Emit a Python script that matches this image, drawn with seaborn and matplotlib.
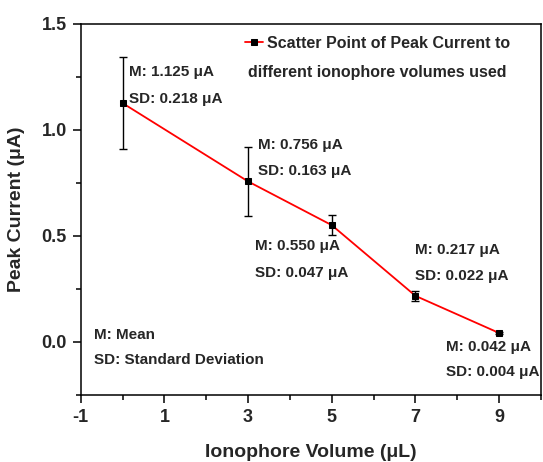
import matplotlib
matplotlib.use("Agg")
import matplotlib.pyplot as plt
import seaborn as sns
import pandas as pd
from matplotlib.ticker import MultipleLocator

# Data
volumes = [0, 3, 5, 7, 9]
peak_current = [1.125, 0.756, 0.550, 0.217, 0.042]
std_dev = [0.218, 0.163, 0.047, 0.022, 0.004]
x_ticks = [-1, 1, 3, 5, 7, 9]
y_ticks = [0.0, 0.5, 1.0, 1.5]

df = pd.DataFrame({"vol": volumes, "cur": peak_current, "sd": std_dev})

sns.set_theme(style="ticks")
plt.rcParams['font.family'] = ['Liberation Sans', 'DejaVu Sans']
plt.rcParams['font.weight'] = 'bold'

fig = plt.figure(figsize=(5.43, 4.62), dpi=100)
ax = fig.add_axes([80.7/543, 1-395/462, (541-80.7)/543, (395-23.5)/462])

ax.errorbar(df["vol"], df["cur"], yerr=df["sd"], fmt='none', ecolor='black',
            elinewidth=1.0, capsize=2.8, capthick=1.0, zorder=2)
sns.lineplot(data=df, x="vol", y="cur", ax=ax, color='red', linewidth=1.3,
             marker='s', markersize=4.5, markerfacecolor='black',
             markeredgecolor='black', label="Scatter Point of Peak Current to",
             zorder=3)

ax.set_xlim(-1, 10)
ax.set_ylim(-0.25, 1.5)
ax.set_xticks(x_ticks)
ax.set_yticks(y_ticks)
ax.set_xticklabels([str(t) for t in x_ticks])
ax.set_yticklabels([f"{t:.1f}" for t in y_ticks])
ax.xaxis.set_minor_locator(MultipleLocator(1))
ax.yaxis.set_minor_locator(MultipleLocator(0.25))
ax.tick_params(axis='both', which='major', direction='out', length=6, width=1.1,
               labelsize=13, color='black', pad=4)
ax.tick_params(axis='both', which='minor', direction='out', length=3.5, width=1.1,
               color='black')
for lab in ax.get_xticklabels() + ax.get_yticklabels():
    lab.set_fontweight('bold')
for s in ax.spines.values():
    s.set_visible(True)
    s.set_linewidth(1.1)
    s.set_color('black')

ax.set_xlabel("Ionophore Volume (μL)", fontsize=14, fontweight='bold', labelpad=13)
ax.set_ylabel("Peak Current (μA)", fontsize=14, fontweight='bold', labelpad=12)

# Legend
leg = ax.legend(loc='center left', bbox_to_anchor=(245/543, 1-43/462),
                bbox_transform=fig.transFigure, frameon=False, borderpad=0,
                borderaxespad=0, handlelength=1.15, handletextpad=0.2,
                prop={'size': 11.5, 'weight': 'bold'})
fig.text(248/543, 1-72.7/462, "different ionophore volumes used", fontsize=11.5,
         fontweight='bold', ha='left', va='center')

# Annotations
ann_x = [0.15, 3.23, 3.16, 7.0, 7.74]
ann_y_m = [1.271, 0.929, 0.450, 0.431, -0.025]
ann_y_sd = [1.145, 0.806, 0.327, 0.309, -0.142]
for xv, ym, ys, m, sd in zip(ann_x, ann_y_m, ann_y_sd, peak_current, std_dev):
    ax.text(xv, ym, f"M: {m:.3f} μA", fontsize=11, fontweight='bold',
            ha='left', va='center', clip_on=False)
    ax.text(xv, ys, f"SD: {sd:.3f} μA", fontsize=11, fontweight='bold',
            ha='left', va='center', clip_on=False)

ax.text(-0.68, 0.031, "M: Mean", fontsize=11, fontweight='bold', ha='left', va='center')
ax.text(-0.68, -0.086, "SD: Standard Deviation", fontsize=11, fontweight='bold',
        ha='left', va='center')

fig.savefig("out.png", dpi=100)
